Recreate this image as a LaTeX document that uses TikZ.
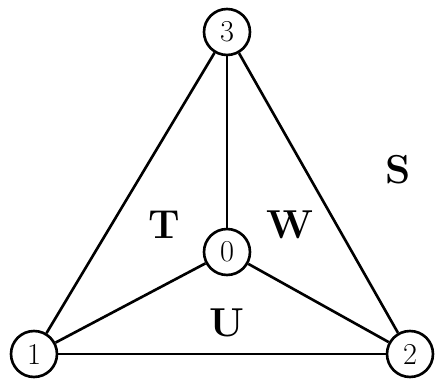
\documentclass[tikz,border=0pt]{standalone}
\usepackage{tikz}
\usepackage{amsmath}

\begin{document}
\begin{tikzpicture}[x=0.02cm, y=0.02cm]
                            \tikzset{vertex/.style={draw, shape=circle, line width=1.5pt, minimum size=0.92cm, inner sep=0pt, font=\LARGE}}
                            \tikzset{edge/.style={line width=1.5pt}}
                            \tikzset{face/.style={font=\fontsize{23}{27}\selectfont\bfseries}}
                            \useasboundingbox (0,0) rectangle (437,389);
                            \node[vertex] (v3) at (227,357) {3};
                            \node[vertex] (v0) at (227,137) {0};
                            \node[vertex] (v1) at (34,35) {1};
                            \node[vertex] (v2) at (410,35) {2};
                            \draw[edge] (v1) -- (v2);
                            \draw[edge] (v1) -- (v3);
                            \draw[edge] (v2) -- (v3);
                            \draw[edge] (v0) -- (v3);
                            \draw[edge] (v0) -- (v1);
                            \draw[edge] (v0) -- (v2);
                            \node[face] (S) at (398,219) {S};
                            \node[face] (T) at (164,164) {T};
                            \node[face] (W) at (290,164) {W};
                            \node[face] (U) at (227,66) {U};
                        \end{tikzpicture}
\end{document}
